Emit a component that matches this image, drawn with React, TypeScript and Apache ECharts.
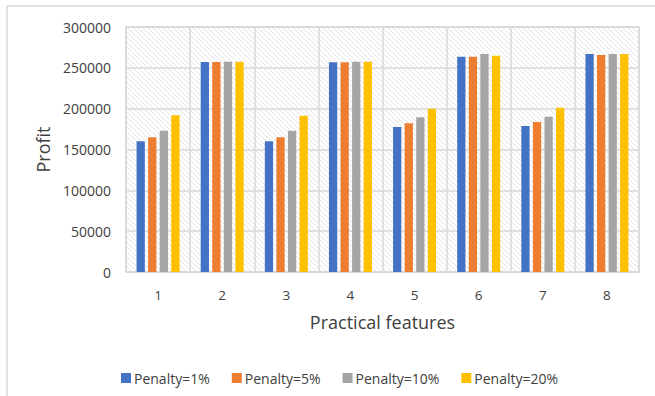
import React, { useEffect, useRef } from "react";
import * as echarts from "echarts";

const categories = ["1", "2", "3", "4", "5", "6", "7", "8"];
const seriesNames = ["Penalty=1%", "Penalty=5%", "Penalty=10%", "Penalty=20%"];
const penalty1 = [160000, 257000, 160000, 256800, 177500, 263700, 178800, 267000];
const penalty5 = [165000, 257000, 165000, 256800, 182000, 263700, 183700, 265700];
const penalty10 = [173000, 257500, 173000, 257500, 189400, 267000, 190200, 267000];
const penalty20 = [192000, 257500, 191400, 257500, 200000, 264900, 201200, 267000];
const colors = ["#4472C4", "#ED7D31", "#A5A5A5", "#FFC000"];
const yMin = 0;
const yMax = 300000;
const yInterval = 50000;

function makeHatch(): string {
  const s = 5;
  const c = document.createElement("canvas");
  c.width = s;
  c.height = s;
  const ctx = c.getContext("2d")!;
  ctx.fillStyle = "#ffffff";
  ctx.fillRect(0, 0, s, s);
  ctx.strokeStyle = "#e2e2e2";
  ctx.lineWidth = 1;
  ctx.beginPath();
  ctx.moveTo(-1, -1);
  ctx.lineTo(s + 1, s + 1);
  ctx.moveTo(-1, s - 1);
  ctx.lineTo(1, s + 1);
  ctx.moveTo(s - 1, -1);
  ctx.lineTo(s + 1, 1);
  ctx.stroke();
  return c.toDataURL();
}

export default function App() {
  const ref = useRef<HTMLDivElement>(null);
  useEffect(() => {
    document.body.style.margin = "0";
    if (!ref.current) return;
    const chart = echarts.init(ref.current, null, { renderer: "svg" });
    const font = "'Open Sans', sans-serif";
    const data = [penalty1, penalty5, penalty10, penalty20];
    chart.setOption({
      animation: false,
      textStyle: { fontFamily: font },
      color: colors,
      graphic: [
        {
          type: "rect",
          shape: { x: 7, y: 6, width: 700, height: 500 },
          style: { fill: "none", stroke: "#d9d9d9", lineWidth: 1.5 },
          silent: true,
          z: -10,
        },
      ],
      grid: {
        left: 126,
        right: 16,
        top: 27,
        bottom: 124,
        show: true,
        backgroundColor: { image: makeHatch(), repeat: "repeat" },
        borderColor: "#d9d9d9",
        borderWidth: 1.5,
      },
      legend: {
        data: seriesNames,
        left: 116,
        top: 366,
        icon: "rect",
        itemWidth: 10,
        itemHeight: 10,
        itemGap: 22,
        textStyle: { fontFamily: font, fontSize: 14, color: "#404040", padding: [0, 0, 0, -2] },
      },
      xAxis: {
        type: "category",
        data: categories,
        name: "Practical features",
        nameLocation: "middle",
        nameGap: 41,
        nameTextStyle: { fontFamily: font, fontSize: 18, color: "#404040" },
        axisLine: { lineStyle: { color: "#d9d9d9", width: 1.5 } },
        axisTick: { show: false },
        axisLabel: { fontFamily: font, fontSize: 13.5, color: "#404040", margin: 16 },
        splitLine: { show: true, lineStyle: { color: "#d9d9d9", width: 1.5 } },
      },
      yAxis: {
        type: "value",
        min: yMin,
        max: yMax,
        interval: yInterval,
        name: "Profit",
        nameLocation: "middle",
        nameGap: 72,
        nameTextStyle: { fontFamily: font, fontSize: 18, color: "#404040" },
        axisLine: { show: false },
        axisTick: { show: false },
        axisLabel: {
          fontFamily: font,
          fontSize: 14,
          color: "#404040",
          margin: 15,
          formatter: (v: number) => String(v),
        },
        splitLine: { show: true, lineStyle: { color: "#d9d9d9", width: 1.5 } },
      },
      series: seriesNames.map((n, i) => ({
        name: n,
        type: "bar",
        data: data[i],
        barGap: "40%",
        barCategoryGap: "33%",
        itemStyle: { color: colors[i] },
      })),
    });
    return () => chart.dispose();
  }, []);
  return <div ref={ref} style={{ width: 655, height: 396 }} />;
}
